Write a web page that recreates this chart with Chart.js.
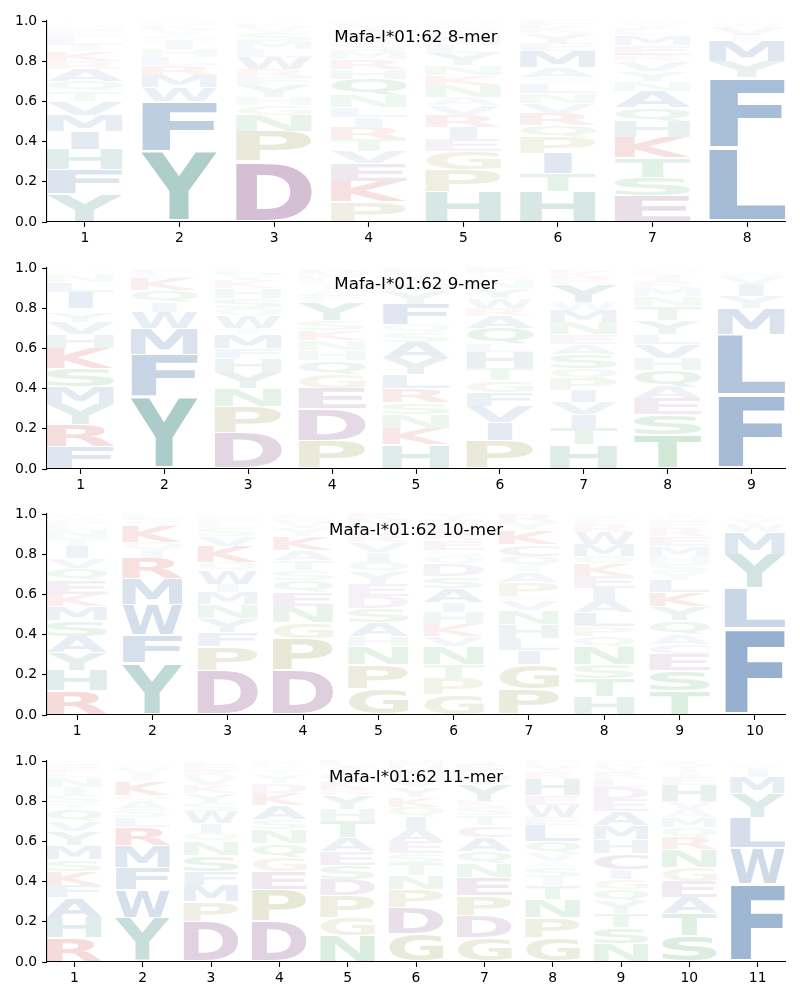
<!DOCTYPE html>
<html><head><meta charset="utf-8">
<script src="https://cdn.jsdelivr.net/npm/chart.js@4.4.1/dist/chart.umd.min.js"></script>
<style>
html,body{margin:0;padding:0;background:#fff;}
#wrap{position:relative;width:800px;height:1000px;}
.panel{position:absolute;left:0;width:800px;height:246px;}
</style></head><body><div id="wrap"></div>
<script>
// ---------- DATA (letter heights, bottom to top, in hundredths) ----------
const titles = ['Mafa-I*01:62 8-mer', 'Mafa-I*01:62 9-mer', 'Mafa-I*01:62 10-mer', 'Mafa-I*01:62 11-mer'];

const tickLabels8 = ['1','2','3','4','5','6','7','8'];
const tickLabels9 = ['1','2','3','4','5','6','7','8','9'];
const tickLabels10 = ['1','2','3','4','5','6','7','8','9','10'];
const tickLabels11 = ['1','2','3','4','5','6','7','8','9','10','11'];

const logo8 = [
  'Y14 F12 H10 I9 M8 V7 T5 Q5 A6 R4 K5 I3 L4 E3 N2 S2',
  'Y35 F25 W7 M6 R5 L4 H4 I4 S3 V3 K2 N2',
  'D30 P15 N8 G5 H4 Y6 F4 R4 W6 L4 M4 S4 V3 K2',
  'P10 K10 E9 V6 T6 R6 I5 L5 N6 Q8 H5 R5 M4 S4 A3 W3 Y3 F2',
  'H15 P11 G9 E6 I6 R6 V5 A4 N6 K5 N5 Y6 L4 M4 Q3 S3 W2',
  'H15 T9 I10 P8 Q6 R6 V5 N5 L5 S3 A5 M8 E4 Y5 K3 F3',
  'E13 S9 T10 K10 H8 Q7 A8 N5 Y5 V5 R3 E5 M5 L3 I2 W2',
  'L37 F35 Y8 M10 I3 V4 W2'
];
const logo9 = [
  'F11 R11 Y10 M9 S9 K10 H7 V6 Y5 T2 I8 L5 N4 Q2',
  'Y36 F21 M13 W8 I5 Q6 K6 L3 R2',
  'D18 P13 N9 Y8 H7 F5 M7 I3 W6 Q4 S5 H5 K4 V3 L3',
  'P14 D16 E10 G7 Q7 H5 N5 K5 S5 Y9 F3 A3 T3 L3 M3 R2',
  'H12 K8 N7 S6 R7 L7 Y8 A8 S5 Q4 F10 Y6 M4 T3 V3 E2',
  'P14 I9 V8 F7 G6 T6 H8 L4 Q8 A6 R4 W5 Y5 N4 S3 K3',
  'H12 T8 I7 V6 I6 P6 Q5 S7 A5 E5 N6 M6 W4 Y9 R3 K3 L2',
  'T17 S10 E8 A6 Q8 H6 V7 L5 Y7 T7 N5 M4 R3 I3 K2 G2',
  'F37 L30 M13 Y6 I6 V4 W2'
];
const logo10 = [
  'R12 H10 Y9 A8 S8 M7 K6 E7 Q6 V5 I6 T4 N4 L3 G3 W2',
  'Y26 F14 W15 M13 R10 I4 Q4 K8 S3 L3',
  'D22 P12 F7 Y7 N7 M6 I4 W7 Q4 K8 V5 S4 L3 E2 H2',
  'D22 P16 G8 N8 E7 Q6 S5 T5 A5 K7 Y4 V3 R2 L2',
  'G13 P12 N9 H5 A7 S7 D6 E6 Y6 Q5 I5 V5 R4 L4 M3 K3',
  'G10 P8 T7 N9 V5 K6 H6 I5 A7 S6 D6 Q4 S3 E5 R4 L3 M3 Y3',
  'P13 G12 I7 L6 H7 N7 V5 E2 P7 A5 I3 Q5 C6 K7 Y4 R4',
  'H9 T9 S7 N9 Q5 P5 L7 A6 I6 E6 K6 Q4 M6 W6 R4 F3 Y2',
  'T12 S10 E8 C5 A5 Q7 Y7 K7 L6 Y4 S4 H4 M5 E5 R4 F3 N2 I2',
  'F43 L20 Y17 M11 W4 V3 I2'
];
const logo11 = [
  'R12 H10 A10 F6 K7 S6 M7 Y7 V5 Q6 T3 S4 I4 N5 L3 E3 G2',
  'Y22 W14 F11 M11 R9 L5 S4 A4 Q3 K7 I3 V3 N2 T2',
  'D20 P10 M8 F7 S8 N7 Q4 I5 W6 S4 Y5 K4 V4 R3 E3 L2',
  'D20 P16 E9 G7 Q7 N7 S5 A7 K6 D5 Y4 T3 V2 R2',
  'N13 G9 P11 D8 S7 E7 A7 T8 H6 Y7 R3 K4 Q4 I3 L3',
  'G14 D13 P9 N7 T6 S5 E6 A6 I6 Q5 K5 Y5 V4 R3 H3 M3',
  'G12 D11 P10 E9 N7 Q6 A7 C6 T5 S4 K3 Y8 V4 L3 R3 I2',
  'G12 P10 N9 T7 I4 S5 A3 V4 Q6 L8 E4 W6 E5 H8 R3 Y3 K2 M1',
  'N9 S8 T7 Y6 Q6 G5 I5 C8 H7 M7 A7 E6 D6 L4 R3 V3 K2 W1',
  'S13 T11 A8 E8 G7 N9 R6 Q5 M5 A4 V4 H8 E4 I3 Y3 K2',
  'F39 W18 L15 Y12 M8 I4 V2'
];

// ---------- STYLE ----------
const BLUE = [70,115,170], TEAL = [80,150,140], PURPLE = [150,100,150],
      OLIVE = [160,160,90], GREEN = [80,170,100], RED = [210,70,70];
const letterColor = {
  F:BLUE, L:BLUE, M:BLUE, W:BLUE, V:BLUE, I:BLUE, A:BLUE,
  Y:TEAL, H:TEAL, D:PURPLE, E:PURPLE, C:PURPLE,
  P:OLIVE, G:OLIVE, N:GREEN, Q:GREEN, S:GREEN, T:GREEN, K:RED, R:RED
};
const GLYPH_FONT = 'bold 100px "DejaVu Sans"';
const TICK_FONT = {family:'"DejaVu Sans"', size:13.9};
const VPAD = 0.03;

function glyphAlpha(h){
  const a = h < 0.1 ? 2*h - 0.03 : 0.05 + 1.2*h;
  return Math.max(0.02, Math.min(0.62, a));
}

const glyphCache = {};
function glyphBox(ctx, ch){
  if(!glyphCache[ch]){
    ctx.save(); ctx.font = GLYPH_FONT;
    const m = ctx.measureText(ch); ctx.restore();
    glyphCache[ch] = {l:m.actualBoundingBoxLeft, r:m.actualBoundingBoxRight,
                      a:m.actualBoundingBoxAscent, d:m.actualBoundingBoxDescent};
  }
  return glyphCache[ch];
}

const logoPlugin = {
  id:'logoGlyphs',
  afterDatasetsDraw(chart){
    const ctx = chart.ctx;
    chart.data.datasets.forEach((ds, di) => {
      const meta = chart.getDatasetMeta(di);
      meta.data.forEach((el, i) => {
        const p = el.getProps(['x','y','base','width'], true);
        const ch = ds.letters[i];
        const top = Math.min(p.y, p.base), bot = Math.max(p.y, p.base);
        const hpx = bot - top;
        if (hpx <= 0.3) return;
        const g = glyphBox(ctx, ch), gE = glyphBox(ctx, 'E');
        const gw = g.l + g.r, gh = g.a + g.d;
        const sx = Math.min(p.width / gw, p.width / (gE.l + gE.r));
        const pad = hpx * VPAD;
        const sy = (hpx - 2*pad) / gh;
        ctx.save();
        ctx.translate(p.x - gw*sx/2, top + pad);
        ctx.scale(sx, sy);
        ctx.font = GLYPH_FONT;
        ctx.textAlign = 'left'; ctx.textBaseline = 'alphabetic';
        ctx.fillStyle = ds.glyphColors[i];
        ctx.fillText(ch, g.l, g.a);
        ctx.restore();
      });
    });
  },
  afterDraw(chart){
    const ctx = chart.ctx, a = chart.chartArea;
    ctx.save();
    ctx.font = '16.7px "DejaVu Sans"';
    ctx.fillStyle = '#000'; ctx.textAlign = 'center'; ctx.textBaseline = 'alphabetic';
    ctx.fillText(chart.options.plugins.logoTitle, (a.left + a.right)/2, a.top + 20.5);
    ctx.restore();
  }
};

function buildDataset(cols){
  const data = [], letters = [], glyphColors = [];
  cols.forEach((col, ci) => {
    let cum = 0;
    col.split(' ').forEach(tok => {
      const ch = tok[0], h = parseFloat(tok.slice(1)) / 100;
      data.push({x: ci + 1, y: [cum, cum + h]});
      letters.push(ch);
      const c = letterColor[ch] || BLUE;
      glyphColors.push(`rgba(${c[0]},${c[1]},${c[2]},${glyphAlpha(h).toFixed(3)})`);
      cum += h;
    });
  });
  return {data, letters, glyphColors, backgroundColor:'rgba(0,0,0,0)', borderWidth:0,
          categoryPercentage:1.0, barPercentage:0.8, grouped:false};
}

const panels = [
  {title:titles[0], cols:logo8, ticks:tickLabels8},
  {title:titles[1], cols:logo9, ticks:tickLabels9},
  {title:titles[2], cols:logo10, ticks:tickLabels10},
  {title:titles[3], cols:logo11, ticks:tickLabels11}
];

const wrap = document.getElementById('wrap');
panels.forEach((pn, k) => {
  const div = document.createElement('div');
  div.className = 'panel';
  div.style.top = (246.5*k) + 'px';
  const cv = document.createElement('canvas');
  cv.width = 800; cv.height = 246;
  div.appendChild(cv); wrap.appendChild(div);
  const n = pn.ticks.length;
  new Chart(cv, {
    type:'bar',
    data:{datasets:[buildDataset(pn.cols)]},
    options:{
      responsive:false, animation:false, maintainAspectRatio:false,
      layout:{padding:{left:0, right:15, top:21, bottom:0}},
      plugins:{legend:{display:false}, tooltip:{enabled:false}, logoTitle:pn.title},
      scales:{
        x:{type:'linear', min:0.6, max:n + 0.4, offset:false,
           afterBuildTicks:(s) => { s.ticks = pn.ticks.map((t, i) => ({value:i + 1})); },
           afterFit:(s) => { s.height = 24; },
           ticks:{autoSkip:false, maxRotation:0, padding:3, color:'#000', font:TICK_FONT,
                  callback:(v) => pn.ticks[Math.round(v) - 1]},
           grid:{display:true, offset:false, drawOnChartArea:false, drawTicks:true, tickLength:4.9, color:'#000', tickWidth:1.1},
           border:{display:true, color:'#000', width:1.1}},
        y:{type:'linear', min:0, max:1,
           afterFit:(s) => { s.width = 47; },
           ticks:{stepSize:0.2, padding:4.9, color:'#000', font:TICK_FONT,
                  callback:(v) => v.toFixed(1)},
           grid:{display:true, offset:false, drawOnChartArea:false, drawTicks:true, tickLength:4.9, color:'#000', tickWidth:1.1},
           border:{display:true, color:'#000', width:1.1}}
      }
    },
    plugins:[logoPlugin]
  });
});
</script></body></html>
